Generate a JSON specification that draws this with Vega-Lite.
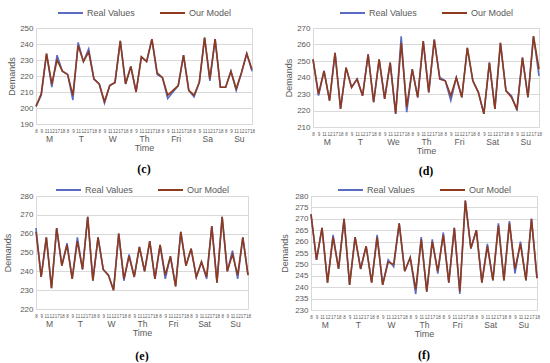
{
  "$schema": "https://vega.github.io/schema/vega-lite/v6.json",
  "background": "white",
  "padding": {"left": 3, "top": 6, "right": 2, "bottom": 0},
  "config": {
    "font": "Liberation Sans",
    "view": {"stroke": "#D9D9D9", "strokeWidth": 1},
    "axis": {"domain": false, "ticks": false, "labelColor": "#595959", "titleColor": "#595959", "titleFontWeight": "normal", "gridColor": "#D9D9D9", "gridWidth": 1},
    "axisY": {"labelFontSize": 8, "titleFontSize": 9, "labelPadding": 3, "titlePadding": 3},
    "legend": {"layout": {"top": {"anchor": "middle"}}, "orient": "top", "direction": "horizontal", "symbolType": "M-1,0H4", "symbolSize": 100, "symbolStrokeWidth": 2, "labelOffset": 18, "labelFontSize": 9, "labelColor": "#595959", "columnPadding": 21},
    "title": {"font": "Liberation Serif", "fontSize": 12, "fontWeight": "bold", "color": "#000000"}
  },
  "datasets": {
    "days": [
      {"p": 2.5}, {"p": 8.5}, {"p": 14.5}, {"p": 20.5}, {"p": 26.5}, {"p": 32.5}, {"p": 38.5}
    ],
    "c": [
      {"i":0,"Real Values":201,"Our Model":201},{"i":1,"Real Values":208,"Our Model":209},{"i":2,"Real Values":234,"Our Model":234},{"i":3,"Real Values":213,"Our Model":215},{"i":4,"Real Values":233,"Our Model":230},{"i":5,"Real Values":223,"Our Model":223},
      {"i":6,"Real Values":221,"Our Model":221},{"i":7,"Real Values":205,"Our Model":208},{"i":8,"Real Values":241,"Our Model":239},{"i":9,"Real Values":229,"Our Model":229},{"i":10,"Real Values":237,"Our Model":235},{"i":11,"Real Values":218,"Our Model":218},
      {"i":12,"Real Values":215,"Our Model":215},{"i":13,"Real Values":203,"Our Model":204},{"i":14,"Real Values":214,"Our Model":214},{"i":15,"Real Values":216,"Our Model":216},{"i":16,"Real Values":242,"Our Model":242},{"i":17,"Real Values":215,"Our Model":215},
      {"i":18,"Real Values":226,"Our Model":226},{"i":19,"Real Values":210,"Our Model":210},{"i":20,"Real Values":232,"Our Model":232},{"i":21,"Real Values":229,"Our Model":229},{"i":22,"Real Values":243,"Our Model":243},{"i":23,"Real Values":221,"Our Model":222},
      {"i":24,"Real Values":219,"Our Model":219},{"i":25,"Real Values":206,"Our Model":208},{"i":26,"Real Values":210,"Our Model":211},{"i":27,"Real Values":214,"Our Model":214},{"i":28,"Real Values":233,"Our Model":233},{"i":29,"Real Values":211,"Our Model":211},
      {"i":30,"Real Values":207,"Our Model":208},{"i":31,"Real Values":216,"Our Model":216},{"i":32,"Real Values":244,"Our Model":244},{"i":33,"Real Values":217,"Our Model":218},{"i":34,"Real Values":243,"Our Model":243},{"i":35,"Real Values":213,"Our Model":213},
      {"i":36,"Real Values":213,"Our Model":213},{"i":37,"Real Values":223,"Our Model":223},{"i":38,"Real Values":211,"Our Model":212},{"i":39,"Real Values":222,"Our Model":222},{"i":40,"Real Values":234,"Our Model":234},{"i":41,"Real Values":223,"Our Model":224}
    ],
    "d": [
      {"i":0,"Real Values":251,"Our Model":251},{"i":1,"Real Values":229,"Our Model":230},{"i":2,"Real Values":244,"Our Model":244},{"i":3,"Real Values":226,"Our Model":226},{"i":4,"Real Values":255,"Our Model":255},{"i":5,"Real Values":221,"Our Model":221},
      {"i":6,"Real Values":246,"Our Model":246},{"i":7,"Real Values":234,"Our Model":234},{"i":8,"Real Values":239,"Our Model":239},{"i":9,"Real Values":229,"Our Model":229},{"i":10,"Real Values":254,"Our Model":254},{"i":11,"Real Values":225,"Our Model":225},
      {"i":12,"Real Values":251,"Our Model":251},{"i":13,"Real Values":227,"Our Model":227},{"i":14,"Real Values":249,"Our Model":249},{"i":15,"Real Values":218,"Our Model":218},{"i":16,"Real Values":265,"Our Model":261},{"i":17,"Real Values":219,"Our Model":222},
      {"i":18,"Real Values":245,"Our Model":245},{"i":19,"Real Values":228,"Our Model":228},{"i":20,"Real Values":262,"Our Model":262},{"i":21,"Real Values":231,"Our Model":231},{"i":22,"Real Values":263,"Our Model":263},{"i":23,"Real Values":240,"Our Model":239},
      {"i":24,"Real Values":238,"Our Model":238},{"i":25,"Real Values":226,"Our Model":229},{"i":26,"Real Values":240,"Our Model":240},{"i":27,"Real Values":228,"Our Model":228},{"i":28,"Real Values":258,"Our Model":258},{"i":29,"Real Values":238,"Our Model":238},
      {"i":30,"Real Values":231,"Our Model":231},{"i":31,"Real Values":218,"Our Model":218},{"i":32,"Real Values":249,"Our Model":249},{"i":33,"Real Values":221,"Our Model":221},{"i":34,"Real Values":261,"Our Model":261},{"i":35,"Real Values":232,"Our Model":232},
      {"i":36,"Real Values":229,"Our Model":228},{"i":37,"Real Values":220,"Our Model":221},{"i":38,"Real Values":252,"Our Model":252},{"i":39,"Real Values":228,"Our Model":228},{"i":40,"Real Values":265,"Our Model":265},{"i":41,"Real Values":241,"Our Model":245}
    ],
    "e": [
      {"i":0,"Real Values":263,"Our Model":261},{"i":1,"Real Values":237,"Our Model":237},{"i":2,"Real Values":258,"Our Model":258},{"i":3,"Real Values":231,"Our Model":231},{"i":4,"Real Values":263,"Our Model":263},{"i":5,"Real Values":243,"Our Model":243},
      {"i":6,"Real Values":255,"Our Model":254},{"i":7,"Real Values":236,"Our Model":236},{"i":8,"Real Values":258,"Our Model":256},{"i":9,"Real Values":241,"Our Model":241},{"i":10,"Real Values":269,"Our Model":269},{"i":11,"Real Values":235,"Our Model":235},
      {"i":12,"Real Values":258,"Our Model":258},{"i":13,"Real Values":241,"Our Model":241},{"i":14,"Real Values":238,"Our Model":238},{"i":15,"Real Values":230,"Our Model":230},{"i":16,"Real Values":260,"Our Model":260},{"i":17,"Real Values":235,"Our Model":236},
      {"i":18,"Real Values":249,"Our Model":248},{"i":19,"Real Values":237,"Our Model":237},{"i":20,"Real Values":253,"Our Model":253},{"i":21,"Real Values":240,"Our Model":240},{"i":22,"Real Values":256,"Our Model":256},{"i":23,"Real Values":236,"Our Model":236},
      {"i":24,"Real Values":254,"Our Model":254},{"i":25,"Real Values":236,"Our Model":238},{"i":26,"Real Values":248,"Our Model":248},{"i":27,"Real Values":232,"Our Model":232},{"i":28,"Real Values":261,"Our Model":261},{"i":29,"Real Values":243,"Our Model":243},
      {"i":30,"Real Values":252,"Our Model":252},{"i":31,"Real Values":237,"Our Model":237},{"i":32,"Real Values":245,"Our Model":245},{"i":33,"Real Values":236,"Our Model":237},{"i":34,"Real Values":264,"Our Model":264},{"i":35,"Real Values":234,"Our Model":234},
      {"i":36,"Real Values":269,"Our Model":269},{"i":37,"Real Values":240,"Our Model":240},{"i":38,"Real Values":251,"Our Model":249},{"i":39,"Real Values":236,"Our Model":238},{"i":40,"Real Values":258,"Our Model":258},{"i":41,"Real Values":238,"Our Model":238}
    ],
    "f": [
      {"i":0,"Real Values":272,"Our Model":272},{"i":1,"Real Values":252,"Our Model":252},{"i":2,"Real Values":266,"Our Model":266},{"i":3,"Real Values":242,"Our Model":242},{"i":4,"Real Values":263,"Our Model":262},{"i":5,"Real Values":248,"Our Model":248},
      {"i":6,"Real Values":270,"Our Model":270},{"i":7,"Real Values":241,"Our Model":241},{"i":8,"Real Values":262,"Our Model":262},{"i":9,"Real Values":248,"Our Model":248},{"i":10,"Real Values":258,"Our Model":258},{"i":11,"Real Values":242,"Our Model":242},
      {"i":12,"Real Values":263,"Our Model":262},{"i":13,"Real Values":241,"Our Model":241},{"i":14,"Real Values":252,"Our Model":251},{"i":15,"Real Values":249,"Our Model":250},{"i":16,"Real Values":268,"Our Model":268},{"i":17,"Real Values":247,"Our Model":247},
      {"i":18,"Real Values":253,"Our Model":253},{"i":19,"Real Values":237,"Our Model":239},{"i":20,"Real Values":262,"Our Model":261},{"i":21,"Real Values":238,"Our Model":238},{"i":22,"Real Values":261,"Our Model":260},{"i":23,"Real Values":246,"Our Model":247},
      {"i":24,"Real Values":264,"Our Model":263},{"i":25,"Real Values":242,"Our Model":242},{"i":26,"Real Values":266,"Our Model":266},{"i":27,"Real Values":237,"Our Model":238},{"i":28,"Real Values":278,"Our Model":278},{"i":29,"Real Values":257,"Our Model":257},
      {"i":30,"Real Values":265,"Our Model":265},{"i":31,"Real Values":242,"Our Model":242},{"i":32,"Real Values":259,"Our Model":258},{"i":33,"Real Values":243,"Our Model":243},{"i":34,"Real Values":268,"Our Model":267},{"i":35,"Real Values":243,"Our Model":243},
      {"i":36,"Real Values":269,"Our Model":268},{"i":37,"Real Values":246,"Our Model":248},{"i":38,"Real Values":260,"Our Model":259},{"i":39,"Real Values":243,"Our Model":243},{"i":40,"Real Values":270,"Our Model":270},{"i":41,"Real Values":244,"Our Model":244}
    ]
  },
  "resolve": {"scale": {"color": "independent"}},
  "spacing": 6,
  "vconcat": [
    {
      "spacing": 28,
      "resolve": {"scale": {"color": "independent"}},
      "hconcat": [
        {
          "width": 216, "height": 96,
          "title": {"text": "(c)", "orient": "bottom", "offset": 11},
          "resolve": {"scale": {"x": "independent"}},
          "layer": [
            {
              "data": {"name": "c"},
              "transform": [{"fold": ["Real Values", "Our Model"], "as": ["series", "v"]}],
              "mark": {"type": "line", "strokeWidth": 1.6},
              "encoding": {
                "x": {"field": "i", "type": "quantitative", "scale": {"domain": [0, 41], "nice": false, "zero": false},
                  "axis": {"orient": "bottom", "values": [0,1,2,3,4,5,6,7,8,9,10,11,12,13,14,15,16,17,18,19,20,21,22,23,24,25,26,27,28,29,30,31,32,33,34,35,36,37,38,39,40,41], "labelExpr": "['8','9','11','12','17','18'][datum.value % 6]", "title": null, "grid": false, "labelFontSize": 4.5, "labelPadding": 4, "labelOverlap": false, "labelFlush": false, "labelBound": false}},
                "y": {"field": "v", "type": "quantitative", "scale": {"domain": [190, 250], "nice": false, "zero": false},
                  "axis": {"values": [190,200,210,220,230,240,250], "title": "Demands"}},
                "color": {"field": "series", "type": "nominal", "scale": {"domain": ["Real Values", "Our Model"], "range": ["#5A6BC4", "#8F3A1C"]},
                  "legend": {"title": null, "offset": 10}}
              }
            },
            {
              "data": {"name": "days"},
              "mark": {"type": "point", "opacity": 0},
              "encoding": {
                "x": {"field": "p", "type": "quantitative", "scale": {"domain": [0, 41], "nice": false, "zero": false},
                  "axis": {"orient": "bottom", "values": [2.5, 8.5, 14.5, 20.5, 26.5, 32.5, 38.5], "labelExpr": "['M','T','W','Th','Fri','Sa','Su'][floor(datum.value / 6)]", "title": "Time", "titleFontSize": 9, "titlePadding": 1, "grid": false, "labelFontSize": 8.5, "labelPadding": 10, "labelFlush": false}}
              }
            }
          ]
        },
        {
          "width": 226, "height": 99,
          "title": {"text": "(d)", "orient": "bottom", "offset": 10},
          "resolve": {"scale": {"x": "independent"}},
          "layer": [
            {
              "data": {"name": "d"},
              "transform": [{"fold": ["Real Values", "Our Model"], "as": ["series", "v"]}],
              "mark": {"type": "line", "strokeWidth": 1.6},
              "encoding": {
                "x": {"field": "i", "type": "quantitative", "scale": {"domain": [0, 41], "nice": false, "zero": false},
                  "axis": {"orient": "bottom", "values": [0,1,2,3,4,5,6,7,8,9,10,11,12,13,14,15,16,17,18,19,20,21,22,23,24,25,26,27,28,29,30,31,32,33,34,35,36,37,38,39,40,41], "labelExpr": "['8','9','11','12','17','18'][datum.value % 6]", "title": null, "grid": false, "labelFontSize": 4.5, "labelPadding": 4, "labelOverlap": false, "labelFlush": false, "labelBound": false}},
                "y": {"field": "v", "type": "quantitative", "scale": {"domain": [210, 270], "nice": false, "zero": false},
                  "axis": {"values": [210,220,230,240,250,260,270], "title": "Demands"}},
                "color": {"field": "series", "type": "nominal", "scale": {"domain": ["Real Values", "Our Model"], "range": ["#5A6BC4", "#8F3A1C"]},
                  "legend": {"title": null, "offset": 10}}
              }
            },
            {
              "data": {"name": "days"},
              "mark": {"type": "point", "opacity": 0},
              "encoding": {
                "x": {"field": "p", "type": "quantitative", "scale": {"domain": [0, 41], "nice": false, "zero": false},
                  "axis": {"orient": "bottom", "values": [2.5, 8.5, 14.5, 20.5, 26.5, 32.5, 38.5], "labelExpr": "['M','T','We','Th','Fri','Sat','Su'][floor(datum.value / 6)]", "title": "Time", "titleFontSize": 9, "titlePadding": 1, "grid": false, "labelFontSize": 8.5, "labelPadding": 10, "labelFlush": false}}
              }
            }
          ]
        }
      ]
    },
    {
      "spacing": 28,
      "resolve": {"scale": {"color": "independent"}},
      "hconcat": [
        {
          "width": 212, "height": 113,
          "title": {"text": "(e)", "orient": "bottom", "offset": 13},
          "resolve": {"scale": {"x": "independent"}},
          "layer": [
            {
              "data": {"name": "e"},
              "transform": [{"fold": ["Real Values", "Our Model"], "as": ["series", "v"]}],
              "mark": {"type": "line", "strokeWidth": 1.6},
              "encoding": {
                "x": {"field": "i", "type": "quantitative", "scale": {"domain": [0, 41], "nice": false, "zero": false},
                  "axis": {"orient": "bottom", "values": [0,1,2,3,4,5,6,7,8,9,10,11,12,13,14,15,16,17,18,19,20,21,22,23,24,25,26,27,28,29,30,31,32,33,34,35,36,37,38,39,40,41], "labelExpr": "['8','9','11','12','17','18'][datum.value % 6]", "title": null, "grid": false, "labelFontSize": 4.5, "labelPadding": 4, "labelOverlap": false, "labelFlush": false, "labelBound": false}},
                "y": {"field": "v", "type": "quantitative", "scale": {"domain": [220, 280], "nice": false, "zero": false},
                  "axis": {"values": [220,230,240,250,260,270,280], "title": "Demands", "titlePadding": 7}},
                "color": {"field": "series", "type": "nominal", "scale": {"domain": ["Real Values", "Our Model"], "range": ["#5A6BC4", "#8F3A1C"]},
                  "legend": {"title": null, "offset": 1}}
              }
            },
            {
              "data": {"name": "days"},
              "mark": {"type": "point", "opacity": 0},
              "encoding": {
                "x": {"field": "p", "type": "quantitative", "scale": {"domain": [0, 41], "nice": false, "zero": false},
                  "axis": {"orient": "bottom", "values": [2.5, 8.5, 14.5, 20.5, 26.5, 32.5, 38.5], "labelExpr": "['M','T','W','Th','Fri','Sat','Su'][floor(datum.value / 6)]", "title": "Time", "titleFontSize": 9, "titlePadding": 1, "grid": false, "labelFontSize": 8.5, "labelPadding": 10, "labelFlush": false}}
              }
            }
          ]
        },
        {
          "width": 226, "height": 114,
          "title": {"text": "(f)", "orient": "bottom", "offset": 11},
          "resolve": {"scale": {"x": "independent"}},
          "layer": [
            {
              "data": {"name": "f"},
              "transform": [{"fold": ["Real Values", "Our Model"], "as": ["series", "v"]}],
              "mark": {"type": "line", "strokeWidth": 1.6},
              "encoding": {
                "x": {"field": "i", "type": "quantitative", "scale": {"domain": [0, 41], "nice": false, "zero": false},
                  "axis": {"orient": "bottom", "values": [0,1,2,3,4,5,6,7,8,9,10,11,12,13,14,15,16,17,18,19,20,21,22,23,24,25,26,27,28,29,30,31,32,33,34,35,36,37,38,39,40,41], "labelExpr": "['8','9','11','12','17','18'][datum.value % 6]", "title": null, "grid": false, "labelFontSize": 4.5, "labelPadding": 4, "labelOverlap": false, "labelFlush": false, "labelBound": false}},
                "y": {"field": "v", "type": "quantitative", "scale": {"domain": [230, 280], "nice": false, "zero": false},
                  "axis": {"values": [230,235,240,245,250,255,260,265,270,275,280], "title": "Demands", "titlePadding": 5}},
                "color": {"field": "series", "type": "nominal", "scale": {"domain": ["Real Values", "Our Model"], "range": ["#5A6BC4", "#8F3A1C"]},
                  "legend": {"title": null, "offset": 1}}
              }
            },
            {
              "data": {"name": "days"},
              "mark": {"type": "point", "opacity": 0},
              "encoding": {
                "x": {"field": "p", "type": "quantitative", "scale": {"domain": [0, 41], "nice": false, "zero": false},
                  "axis": {"orient": "bottom", "values": [2.5, 8.5, 14.5, 20.5, 26.5, 32.5, 38.5], "labelExpr": "['M','T','W','Th','Fri','Sat','Su'][floor(datum.value / 6)]", "title": "Time", "titleFontSize": 9, "titlePadding": 1, "grid": false, "labelFontSize": 8.5, "labelPadding": 10, "labelFlush": false}}
              }
            }
          ]
        }
      ]
    }
  ]
}
